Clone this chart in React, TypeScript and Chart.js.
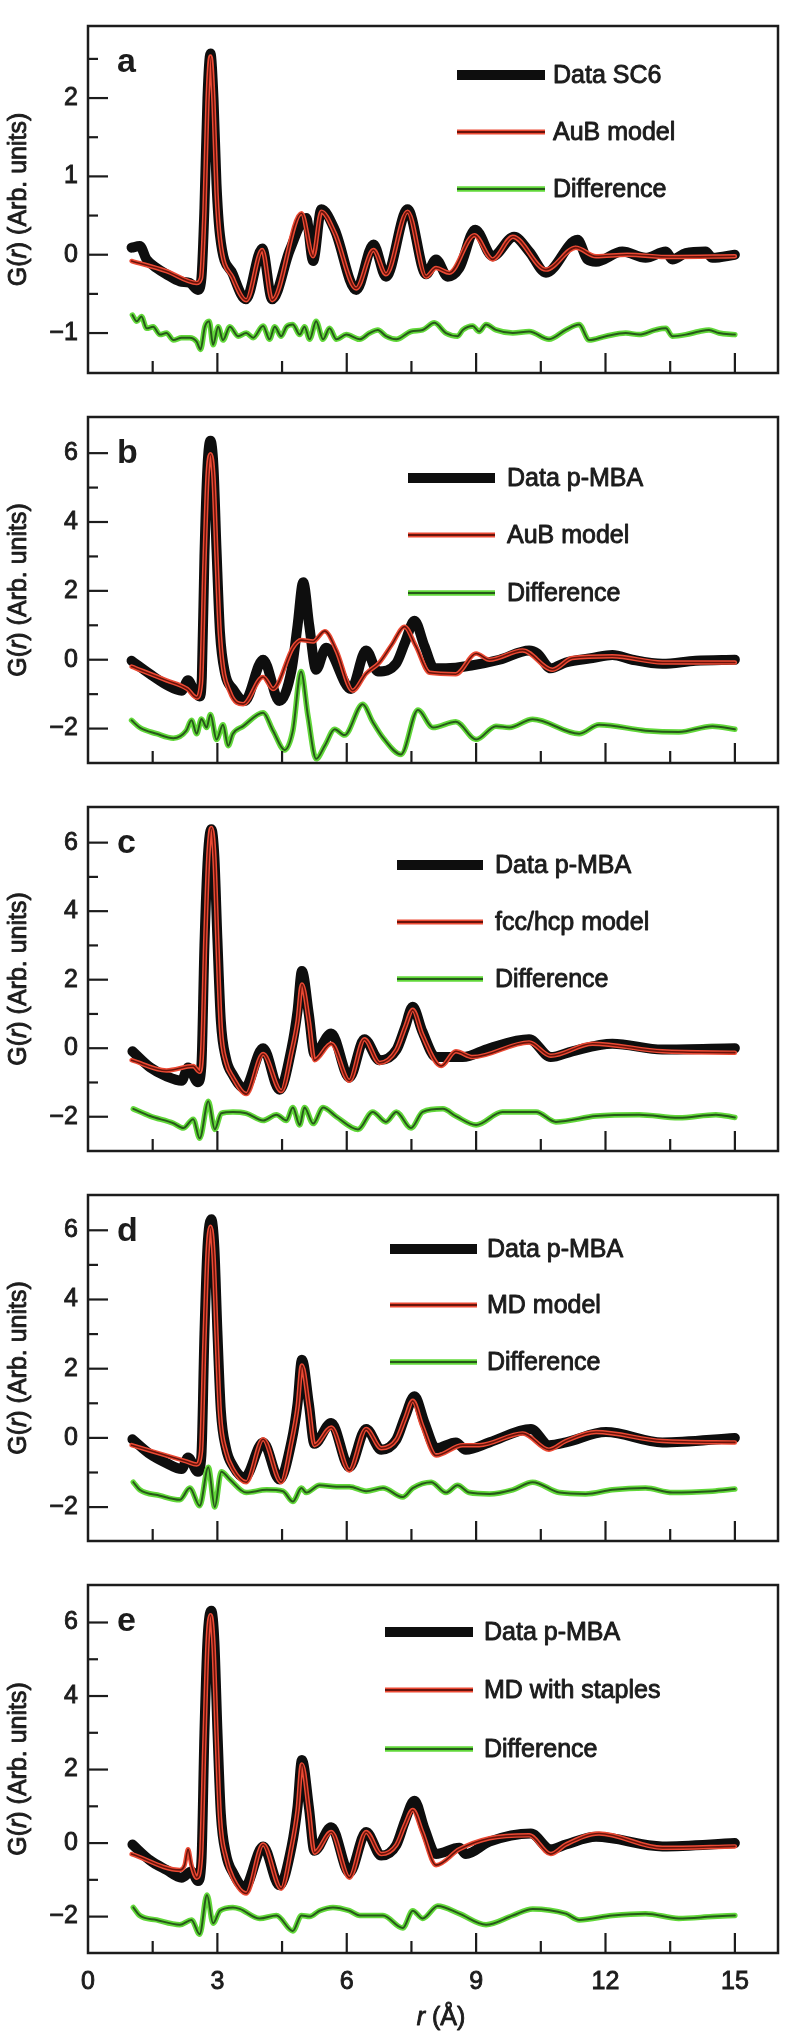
import React, { useEffect, useRef } from 'react';
import { Chart, registerables } from 'chart.js';

Chart.register(...registerables);

type P = [number, number];

// ---------- axis ticks ----------
const xLabelTicks = [0, 3, 6, 9, 12, 15];
const xMajorTicks = [3, 6, 9, 12, 15];
const xMinorTicks = [1.5, 4.5, 7.5, 10.5, 13.5];
const yTicksA = [-1, -0.5, 0, 0.5, 1, 1.5, 2, 2.5];
const yMajorA = [-1, 0, 1, 2];
const yTicksB = [-2, -1, 0, 1, 2, 3, 4, 5, 6];
const yMajorB = [-2, 0, 2, 4, 6];

// ---------- legend names ----------
const namesA = ['Data SC6', 'AuB model', 'Difference'];
const namesB = ['Data p-MBA', 'AuB model', 'Difference'];
const namesC = ['Data p-MBA', 'fcc/hcp model', 'Difference'];
const namesD = ['Data p-MBA', 'MD model', 'Difference'];
const namesE = ['Data p-MBA', 'MD with staples', 'Difference'];

// ---------- panel a ----------
const dataA: P[] = [[1.01,0.09],[1.2,0.11],[1.36,-0.06],[1.59,-0.17],[1.82,-0.25],[2.13,-0.34],[2.36,-0.36],[2.55,-0.45],[2.63,-0.3],[2.7,0.6],[2.77,2.0],[2.84,2.57],[2.91,2.0],[2.98,0.9],[3.06,0.25],[3.36,-0.25],[3.66,-0.57],[4.04,0.08],[4.27,-0.57],[4.68,0.06],[5.06,0.47],[5.22,-0.08],[5.41,0.58],[5.72,0.32],[6.22,-0.45],[6.62,0.13],[6.91,-0.28],[7.41,0.58],[7.84,-0.25],[8.07,-0.06],[8.34,-0.28],[8.61,-0.17],[8.98,0.32],[9.38,-0.02],[9.88,0.23],[10.23,0.04],[10.62,-0.23],[11.35,0.19],[11.58,-0.06],[11.78,-0.09],[12.39,0.04],[12.93,-0.04],[13.4,0.04],[13.55,-0.06],[13.86,0.02],[14.32,0.04],[14.48,-0.04],[15.0,0.0]];
const modelA: P[] = [[1.01,-0.08],[1.82,-0.21],[2.52,-0.36],[2.62,-0.3],[2.7,0.55],[2.77,1.95],[2.84,2.53],[2.91,1.95],[2.98,0.8],[3.06,0.2],[3.36,-0.3],[3.67,-0.58],[4.04,0.06],[4.27,-0.58],[4.95,0.53],[5.22,-0.02],[5.41,0.55],[5.72,0.28],[6.22,-0.43],[6.62,0.06],[6.91,-0.25],[7.41,0.55],[7.84,-0.28],[8.07,-0.17],[8.38,-0.23],[8.96,0.25],[9.38,-0.06],[9.85,0.23],[10.62,-0.19],[11.31,0.09],[11.78,-0.02],[12.5,0.0],[13.5,-0.03],[15.0,-0.02]];
const diffA: P[] = [[1.03,-0.77],[1.13,-0.85],[1.24,-0.79],[1.36,-0.94],[1.51,-0.92],[1.67,-1.02],[1.82,-1.0],[1.98,-1.09],[2.17,-1.06],[2.36,-1.06],[2.52,-1.11],[2.61,-1.21],[2.71,-0.92],[2.81,-0.85],[2.9,-1.15],[3.02,-0.92],[3.13,-1.09],[3.29,-0.92],[3.48,-1.04],[3.67,-1.0],[3.83,-1.06],[4.06,-0.91],[4.21,-1.08],[4.33,-0.92],[4.48,-1.04],[4.6,-0.92],[4.75,-0.89],[4.91,-1.02],[5.02,-0.92],[5.14,-1.08],[5.29,-0.85],[5.45,-1.08],[5.6,-0.94],[5.76,-1.08],[5.99,-1.02],[6.3,-1.08],[6.53,-1.0],[6.72,-0.96],[6.91,-1.04],[7.15,-1.08],[7.49,-0.98],[7.76,-0.96],[8.03,-0.87],[8.3,-1.0],[8.57,-1.04],[8.69,-0.96],[8.92,-0.91],[9.07,-0.98],[9.23,-0.89],[9.46,-0.96],[9.85,-1.0],[10.23,-0.98],[10.69,-1.08],[11.08,-0.96],[11.39,-0.89],[11.62,-1.09],[12.01,-1.04],[12.47,-1.0],[12.78,-1.02],[13.16,-0.96],[13.4,-0.94],[13.55,-1.04],[13.86,-1.02],[14.17,-0.98],[14.4,-0.96],[14.63,-1.0],[15.0,-1.02]];

// ---------- panel b ----------
const dataB: P[] = [[1.01,-0.03],[1.44,-0.42],[1.82,-0.73],[2.17,-0.9],[2.32,-0.6],[2.44,-0.85],[2.59,-1.07],[2.64,-0.5],[2.7,3.0],[2.77,5.6],[2.84,6.36],[2.91,5.6],[2.98,3.2],[3.06,0.8],[3.18,-0.4],[3.36,-0.85],[3.63,-1.2],[4.06,0.0],[4.44,-1.2],[4.72,-0.3],[4.86,1.0],[4.99,2.25],[5.13,1.0],[5.29,-0.29],[5.52,0.35],[6.1,-0.85],[6.45,0.27],[6.72,-0.34],[7.15,-0.1],[7.35,0.5],[7.57,1.13],[7.8,0.4],[8.03,-0.25],[8.3,-0.25],[8.92,-0.16],[9.54,0.0],[10.23,0.27],[10.42,0.18],[10.73,-0.25],[11.08,-0.08],[11.7,0.05],[12.16,0.14],[12.62,0.0],[13.32,-0.12],[14.09,-0.03],[15.0,0.0]];
const modelB: P[] = [[1.01,-0.2],[1.82,-0.6],[2.3,-0.85],[2.52,-1.1],[2.62,-0.7],[2.7,2.8],[2.77,5.3],[2.84,5.97],[2.91,5.3],[2.98,3.0],[3.06,0.7],[3.29,-0.94],[3.6,-1.29],[4.06,-0.5],[4.29,-0.85],[4.75,0.35],[4.94,0.57],[5.22,0.53],[5.49,0.83],[5.76,0.27],[6.14,-0.9],[6.45,-0.4],[6.76,-0.08],[7.05,0.45],[7.34,0.96],[7.6,0.4],[7.92,-0.38],[8.53,-0.42],[9.0,0.18],[9.31,0.0],[10.08,0.27],[10.77,-0.29],[11.23,0.05],[12.16,0.1],[13.32,-0.08],[15.0,-0.08]];
const diffB: P[] = [[1.01,-1.76],[1.2,-1.97],[1.59,-2.15],[1.98,-2.28],[2.28,-2.06],[2.4,-1.76],[2.52,-2.15],[2.63,-1.72],[2.75,-1.97],[2.84,-1.59],[2.98,-2.32],[3.13,-1.89],[3.25,-2.5],[3.36,-2.15],[3.6,-1.93],[4.06,-1.54],[4.29,-2.06],[4.56,-2.62],[4.75,-2.06],[4.94,-0.34],[5.1,-1.63],[5.29,-2.88],[5.49,-2.5],[5.72,-2.02],[5.95,-2.19],[6.37,-1.29],[6.6,-1.8],[6.85,-2.28],[7.26,-2.75],[7.65,-1.46],[8.0,-1.97],[8.53,-1.8],[9.0,-2.32],[9.46,-1.93],[9.77,-1.97],[10.31,-1.73],[11.39,-2.15],[11.85,-1.89],[12.93,-2.06],[13.7,-2.1],[14.48,-1.93],[15.0,-2.02]];

// ---------- panel c ----------
const dataC: P[] = [[1.03,-0.09],[1.44,-0.56],[1.82,-0.82],[2.17,-0.95],[2.32,-0.56],[2.55,-0.99],[2.63,-0.5],[2.7,3.0],[2.78,5.6],[2.86,6.39],[2.93,5.6],[3.0,3.2],[3.08,0.8],[3.2,-0.3],[3.36,-0.78],[3.63,-1.17],[4.06,0.0],[4.44,-1.21],[4.72,0.0],[4.86,1.1],[4.96,2.25],[5.12,1.0],[5.25,-0.17],[5.64,0.43],[6.06,-0.86],[6.41,0.26],[6.76,-0.35],[7.15,-0.05],[7.35,0.6],[7.53,1.21],[7.75,0.5],[8.07,-0.26],[8.69,-0.26],[9.31,0.0],[10.23,0.26],[10.73,-0.26],[11.23,-0.09],[12.16,0.13],[13.32,-0.04],[15.0,0.0]];
const modelC: P[] = [[1.01,-0.35],[1.82,-0.65],[2.44,-0.52],[2.59,-0.69],[2.65,0.0],[2.72,3.2],[2.79,5.6],[2.86,6.43],[2.93,5.6],[3.0,3.1],[3.08,0.6],[3.2,-0.4],[3.36,-0.85],[3.67,-1.34],[4.06,-0.17],[4.48,-1.25],[4.72,-0.1],[4.86,0.8],[4.96,1.86],[5.12,0.8],[5.25,-0.35],[5.64,0.13],[6.06,-0.95],[6.41,0.26],[6.76,-0.43],[7.15,-0.05],[7.35,0.6],[7.53,1.12],[7.75,0.4],[8.19,-0.52],[8.53,-0.09],[8.92,-0.26],[10.23,0.17],[10.73,-0.22],[11.7,0.13],[13.32,-0.09],[15.0,-0.13]];
const diffC: P[] = [[1.05,-1.77],[1.44,-1.98],[1.98,-2.19],[2.21,-2.33],[2.44,-2.07],[2.59,-2.63],[2.79,-1.55],[2.94,-2.37],[3.09,-1.9],[3.36,-1.86],[3.67,-1.9],[4.06,-2.11],[4.37,-1.94],[4.6,-2.11],[4.75,-1.73],[4.91,-2.24],[5.02,-1.73],[5.22,-2.2],[5.45,-1.73],[5.76,-2.0],[6.26,-2.37],[6.6,-1.86],[6.91,-2.15],[7.15,-1.86],[7.49,-2.33],[7.76,-1.86],[8.23,-1.77],[8.53,-1.98],[9.0,-2.24],[9.61,-1.86],[10.39,-1.86],[10.85,-2.15],[11.78,-1.98],[12.78,-1.94],[13.7,-2.03],[14.56,-1.94],[15.0,-2.02]];

// ---------- panel d ----------
const dataD: P[] = [[1.03,-0.04],[1.44,-0.47],[1.82,-0.73],[2.17,-0.9],[2.32,-0.57],[2.55,-0.98],[2.63,-0.5],[2.7,3.0],[2.77,5.5],[2.86,6.32],[2.93,5.5],[3.0,3.1],[3.08,0.8],[3.2,-0.3],[3.36,-0.81],[3.63,-1.15],[4.06,-0.13],[4.44,-1.2],[4.72,-0.1],[4.86,1.0],[4.96,2.26],[5.12,1.0],[5.25,-0.17],[5.64,0.43],[6.06,-0.85],[6.45,0.26],[6.8,-0.34],[7.15,-0.05],[7.35,0.6],[7.57,1.2],[7.8,0.45],[8.07,-0.3],[8.53,-0.13],[8.76,-0.34],[9.31,-0.13],[10.27,0.26],[10.69,-0.21],[11.08,-0.13],[12.01,0.17],[13.32,-0.13],[15.0,0.0]];
const modelD: P[] = [[1.01,-0.21],[2.28,-0.68],[2.52,-0.77],[2.62,-0.4],[2.7,2.8],[2.77,5.3],[2.84,6.1],[2.91,5.3],[2.98,3.0],[3.06,0.7],[3.2,-0.4],[3.36,-0.9],[3.67,-1.28],[4.06,-0.04],[4.48,-1.28],[4.72,-0.1],[4.86,0.9],[4.96,2.09],[5.12,0.9],[5.25,-0.21],[5.64,0.3],[6.06,-0.94],[6.45,0.26],[6.8,-0.3],[7.15,-0.05],[7.35,0.55],[7.53,1.07],[7.75,0.35],[8.07,-0.51],[8.69,-0.21],[9.07,-0.21],[10.08,0.13],[10.69,-0.34],[11.08,-0.09],[11.78,0.17],[13.32,-0.09],[15.0,-0.13]];
const diffD: P[] = [[1.05,-1.28],[1.2,-1.5],[1.67,-1.67],[2.13,-1.79],[2.36,-1.45],[2.59,-1.96],[2.79,-0.85],[2.94,-2.0],[3.09,-0.98],[3.29,-1.2],[3.67,-1.58],[4.14,-1.5],[4.52,-1.54],[4.75,-1.84],[4.95,-1.45],[5.06,-1.58],[5.37,-1.37],[5.76,-1.41],[6.06,-1.41],[6.45,-1.54],[6.84,-1.45],[7.3,-1.71],[7.53,-1.45],[7.96,-1.28],[8.3,-1.58],[8.57,-1.37],[8.84,-1.58],[9.31,-1.62],[9.85,-1.5],[10.31,-1.28],[10.93,-1.58],[11.54,-1.62],[12.16,-1.5],[12.93,-1.45],[13.55,-1.58],[14.48,-1.54],[15.0,-1.48]];

// ---------- panel e ----------
const dataE: P[] = [[1.03,-0.04],[1.44,-0.47],[1.82,-0.73],[2.17,-0.94],[2.4,-0.77],[2.55,-1.03],[2.63,-0.5],[2.7,3.0],[2.77,5.5],[2.86,6.32],[2.93,5.5],[3.0,3.1],[3.08,0.8],[3.2,-0.3],[3.36,-0.8],[3.63,-1.2],[4.06,-0.09],[4.44,-1.15],[4.72,-0.1],[4.86,1.0],[4.96,2.26],[5.12,1.0],[5.25,-0.21],[5.64,0.43],[6.06,-0.81],[6.45,0.3],[6.8,-0.34],[7.15,-0.05],[7.35,0.6],[7.57,1.15],[7.8,0.4],[8.07,-0.3],[8.61,-0.13],[8.76,-0.3],[9.31,0.04],[10.27,0.26],[10.73,-0.17],[11.08,-0.04],[11.78,0.17],[13.32,-0.09],[15.0,0.0]];
const modelE: P[] = [[1.01,-0.3],[2.13,-0.73],[2.24,-0.6],[2.32,-0.17],[2.4,-0.6],[2.52,-0.94],[2.62,-0.4],[2.7,2.8],[2.77,5.4],[2.84,6.2],[2.91,5.4],[2.98,3.0],[3.06,0.7],[3.2,-0.4],[3.36,-0.95],[3.67,-1.37],[4.06,-0.04],[4.48,-1.24],[4.72,-0.1],[4.86,0.9],[4.96,2.14],[5.12,0.9],[5.25,-0.26],[5.64,0.3],[6.06,-0.94],[6.45,0.3],[6.8,-0.3],[7.15,-0.05],[7.35,0.5],[7.53,0.9],[7.75,0.3],[8.07,-0.6],[8.61,-0.17],[9.31,0.13],[10.23,0.21],[10.73,-0.3],[11.08,-0.04],[11.85,0.26],[13.32,-0.13],[15.0,-0.09]];
const diffE: P[] = [[1.05,-1.75],[1.2,-1.97],[1.59,-2.09],[2.13,-2.22],[2.4,-2.09],[2.59,-2.48],[2.76,-1.41],[2.9,-2.18],[3.06,-1.84],[3.36,-1.75],[3.52,-1.79],[3.98,-2.05],[4.37,-1.97],[4.75,-2.39],[4.95,-1.97],[5.14,-2.0],[5.37,-1.84],[5.68,-1.75],[6.06,-1.84],[6.3,-1.97],[6.84,-1.97],[7.3,-2.31],[7.53,-1.84],[7.76,-2.05],[8.11,-1.71],[8.61,-1.92],[9.23,-2.22],[9.85,-1.97],[10.31,-1.79],[11.08,-1.92],[11.39,-2.09],[12.16,-1.97],[12.93,-1.92],[13.7,-2.05],[14.48,-2.0],[15.0,-1.97]];

// ---------- layout / style ----------
const FONT = '"Liberation Sans", Arial, Helvetica, sans-serif';
const INK = '#1c1c1c';
const PAGE_W = 787;
const PAGE_H = 2038;
const PLOT_LEFT = 88;
const PLOT_RIGHT = 778;
const PAD = 3;
const TEXT_STROKE = 0.9;

type Panel = {
  letter: string; top: number; bottom: number; yMin: number; yMax: number;
  yTicks: number[]; yMajor: number[]; data: P[]; model: P[]; diff: P[];
  names: string[]; legend: { x1: number; x2: number; tx: number; rows: number[] };
};

const panels: Panel[] = [
  { letter: 'a', top: 4, bottom: 395, yMin: -1.51, yMax: 2.92, yTicks: yTicksA, yMajor: yMajorA, data: dataA, model: modelA, diff: diffA, names: namesA, legend: { x1: 457, x2: 545, tx: 553, rows: [49, 106, 163] } },
  { letter: 'b', top: 395, bottom: 785, yMin: -3.0, yMax: 7.05, yTicks: yTicksB, yMajor: yMajorB, data: dataB, model: modelB, diff: diffB, names: namesB, legend: { x1: 408, x2: 495, tx: 507, rows: [61, 118, 176] } },
  { letter: 'c', top: 785, bottom: 1173, yMin: -3.0, yMax: 7.04, yTicks: yTicksB, yMajor: yMajorB, data: dataC, model: modelC, diff: diffC, names: namesC, legend: { x1: 397, x2: 483, tx: 495, rows: [58, 115, 172] } },
  { letter: 'd', top: 1173, bottom: 1563, yMin: -2.98, yMax: 7.02, yTicks: yTicksB, yMajor: yMajorB, data: dataD, model: modelD, diff: diffD, names: namesD, legend: { x1: 390, x2: 477, tx: 487, rows: [54, 110, 167] } },
  { letter: 'e', top: 1563, bottom: 1953, yMin: -2.99, yMax: 7.02, yTicks: yTicksB, yMajor: yMajorB, data: dataE, model: modelE, diff: diffE, names: namesE, legend: { x1: 385, x2: 473, tx: 484, rows: [47, 105, 164] } },
];

const fmt = (v: number) => (v < 0 ? '\u2212' + Math.abs(v) : String(v));
const toXY = (arr: P[]) => arr.map(([x, y]) => ({ x, y }));

const BLACK = '#0e0e0e';
const RED_GLOW = '#ec4a34';
const RED_CORE = '#6a140b';
const GREEN_GLOW = '#62d83a';
const GREEN_CORE = '#27581a';

function drawRich(ctx: CanvasRenderingContext2D, parts: [string, string][], cx: number, cy: number) {
  let total = 0;
  for (const [t, f] of parts) { ctx.font = f; total += ctx.measureText(t).width; }
  let x = cx - total / 2;
  ctx.textAlign = 'left';
  ctx.textBaseline = 'middle';
  for (const [t, f] of parts) {
    ctx.font = f;
    ctx.fillText(t, x, cy);
    ctx.strokeText(t, x, cy);
    x += ctx.measureText(t).width;
  }
}

function PanelChart({ cfg, last }: { cfg: Panel; last: boolean }) {
  const ref = useRef<HTMLCanvasElement | null>(null);
  const canvasTop = cfg.top - PAD;
  const height = last ? PAGE_H - canvasTop : cfg.bottom - cfg.top + 2 * PAD;

  useEffect(() => {
    if (!ref.current) return;
    const normal = `25px ${FONT}`;
    const italic = `italic 25px ${FONT}`;
    const decor = {
      id: 'decor',
      afterDraw(chart: any) {
        const { ctx, chartArea: a, scales } = chart;
        const xs = scales.x, ys = scales.y;
        ctx.save();
        ctx.strokeStyle = INK;
        ctx.fillStyle = INK;
        ctx.lineCap = 'butt';
        // frame
        ctx.lineWidth = 2.5;
        ctx.strokeRect(a.left, a.top, a.right - a.left, a.bottom - a.top);
        // y ticks (inward)
        ctx.lineWidth = 2.2;
        for (const v of cfg.yTicks) {
          const py = ys.getPixelForValue(v);
          const len = cfg.yMajor.includes(v) ? 20 : 10;
          ctx.beginPath(); ctx.moveTo(a.left, py); ctx.lineTo(a.left + len, py); ctx.stroke();
        }
        // x ticks (inward, bottom)
        for (const v of xMajorTicks) {
          const px = xs.getPixelForValue(v);
          ctx.beginPath(); ctx.moveTo(px, a.bottom); ctx.lineTo(px, a.bottom - 20); ctx.stroke();
        }
        for (const v of xMinorTicks) {
          const px = xs.getPixelForValue(v);
          ctx.beginPath(); ctx.moveTo(px, a.bottom); ctx.lineTo(px, a.bottom - 12); ctx.stroke();
        }
        // panel letter
        ctx.font = `bold 34px ${FONT}`;
        ctx.textAlign = 'left';
        ctx.textBaseline = 'alphabetic';
        ctx.fillText(cfg.letter, 117, a.top + 46);
        // legend
        const L = cfg.legend;
        const rowY = L.rows.map((r) => a.top + r);
        const seg = (y: number, color: string, w: number) => {
          ctx.strokeStyle = color; ctx.lineWidth = w; ctx.lineCap = 'butt';
          ctx.beginPath(); ctx.moveTo(L.x1, y); ctx.lineTo(L.x2, y); ctx.stroke();
        };
        seg(rowY[0], BLACK, 10);
        seg(rowY[1], RED_GLOW, 5);
        seg(rowY[1], RED_CORE, 1.8);
        seg(rowY[2], GREEN_GLOW, 5.5);
        seg(rowY[2], GREEN_CORE, 2);
        ctx.fillStyle = INK;
        ctx.strokeStyle = INK;
        ctx.lineWidth = TEXT_STROKE;
        ctx.lineJoin = 'round';
        ctx.font = normal;
        ctx.textBaseline = 'middle';
        cfg.names.forEach((n, i) => {
          ctx.fillText(n, L.tx, rowY[i] + 1);
          ctx.strokeText(n, L.tx, rowY[i] + 1);
        });
        // y title
        ctx.save();
        ctx.translate(19, (a.top + a.bottom) / 2);
        ctx.rotate(-Math.PI / 2);
        drawRich(ctx, [['G(', normal], ['r', italic], [') (Arb. units)', normal]], 0, 0);
        ctx.restore();
        // x title
        if (last) {
          drawRich(ctx, [['r', italic], [' (\u00c5)', normal]], 441, a.bottom + 65);
        }
        ctx.restore();
      },
    };

    const line = (arr: P[], color: string, width: number, order: number) => ({
      data: toXY(arr), borderColor: color, borderWidth: width, pointRadius: 0,
      cubicInterpolationMode: 'monotone', borderJoinStyle: 'round', borderCapStyle: 'round',
      fill: false, order,
    });

    const tickFont = { family: FONT, size: 25 };

    const chart = new Chart(ref.current, {
      type: 'line',
      data: {
        datasets: [
          { label: cfg.names[0], ...line(cfg.data, BLACK, 10, 5) },
          { label: cfg.names[1], ...line(cfg.model, RED_GLOW, 4.5, 4) },
          { label: cfg.names[1] + ' core', ...line(cfg.model, RED_CORE, 1.6, 3) },
          { label: cfg.names[2], ...line(cfg.diff, GREEN_GLOW, 5.5, 2) },
          { label: cfg.names[2] + ' core', ...line(cfg.diff, GREEN_CORE, 2, 1) },
        ] as any,
      },
      options: {
        responsive: false,
        animation: false,
        devicePixelRatio: 1,
        events: [],
        layout: { padding: { top: PAD, right: PAGE_W - PLOT_RIGHT, bottom: last ? 0 : PAD, left: 0 } },
        plugins: { legend: { display: false }, tooltip: { enabled: false }, title: { display: false } },
        scales: {
          x: {
            type: 'linear', min: 0, max: 16, display: last,
            grid: { display: false, drawTicks: false },
            border: { display: false },
            ticks: {
              autoSkip: false, maxRotation: 0, padding: 14, color: INK,
              textStrokeColor: INK, textStrokeWidth: TEXT_STROKE,
              font: tickFont,
              callback: (v: any) => String(v),
            },
            afterBuildTicks: (s: any) => { s.ticks = xLabelTicks.map((v) => ({ value: v })); },
            afterFit: (s: any) => { s.height = last ? PAGE_H - cfg.bottom : 0; },
          },
          y: {
            type: 'linear', min: cfg.yMin, max: cfg.yMax,
            grid: { display: false, drawTicks: false },
            border: { display: false },
            ticks: {
              autoSkip: false, padding: 10, color: INK,
              textStrokeColor: INK, textStrokeWidth: TEXT_STROKE,
              font: tickFont,
              callback: (v: any) => (cfg.yMajor.includes(Number(v)) ? fmt(Number(v)) : ''),
            },
            afterBuildTicks: (s: any) => { s.ticks = cfg.yTicks.map((v) => ({ value: v })); },
            afterFit: (s: any) => { s.width = PLOT_LEFT; },
          },
        },
      } as any,
      plugins: [decor],
    });
    return () => chart.destroy();
  }, [cfg, last]);

  return (
    <canvas
      ref={ref}
      width={PAGE_W}
      height={height}
      style={{ position: 'absolute', left: 0, top: canvasTop, width: PAGE_W, height }}
    />
  );
}

export default function App() {
  return (
    <div style={{ position: 'absolute', left: 0, top: 0, width: PAGE_W, height: PAGE_H, background: '#ffffff', overflow: 'hidden' }}>
      {panels.map((p, i) => (
        <PanelChart key={p.letter} cfg={p} last={i === panels.length - 1} />
      ))}
    </div>
  );
}
